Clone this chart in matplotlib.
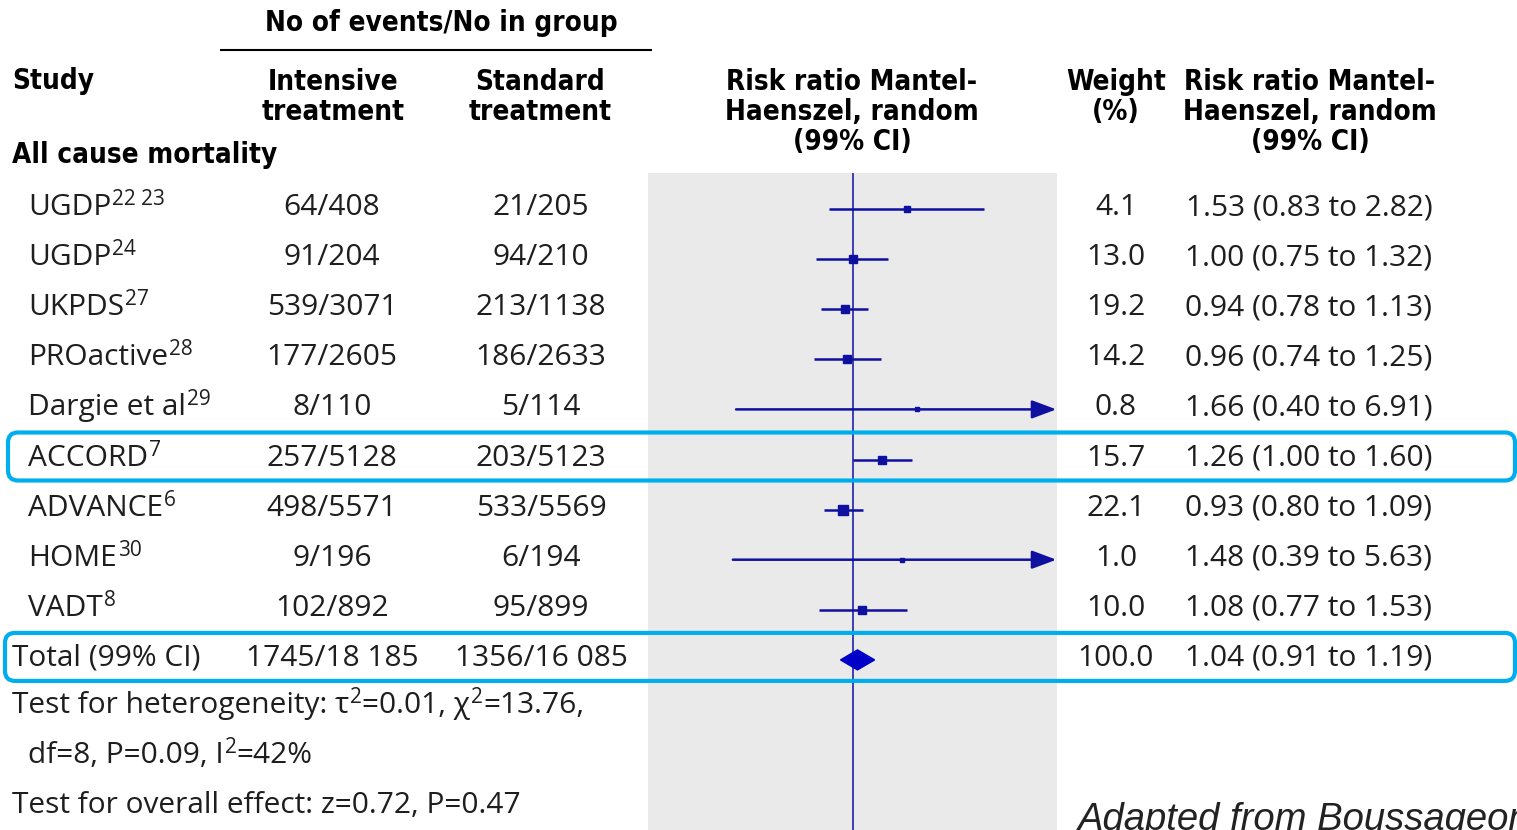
import numpy as np
import matplotlib
matplotlib.use("Agg")
import matplotlib.pyplot as plt
from matplotlib import font_manager
from matplotlib.patches import FancyBboxPatch, Polygon

# ---- data ---------------------------------------------------------------
studies = ["UGDP", "UGDP", "UKPDS", "PROactive", "Dargie et al",
           "ACCORD", "ADVANCE", "HOME", "VADT"]
refs = ["22 23", "24", "27", "28", "29", "7", "6", "30", "8"]
intensive = ["64/408", "91/204", "539/3071", "177/2605", "8/110",
             "257/5128", "498/5571", "9/196", "102/892"]
standard = ["21/205", "94/210", "213/1138", "186/2633", "5/114",
            "203/5123", "533/5569", "6/194", "95/899"]
weights = [4.1, 13.0, 19.2, 14.2, 0.8, 15.7, 22.1, 1.0, 10.0]
rr = [1.53, 1.00, 0.94, 0.96, 1.66, 1.26, 0.93, 1.48, 1.08]
rr_lo = [0.83, 0.75, 0.78, 0.74, 0.40, 1.00, 0.80, 0.39, 0.77]
rr_hi = [2.82, 1.32, 1.13, 1.25, 6.91, 1.60, 1.09, 5.63, 1.53]

total_label = "Total (99% CI)"
total_intensive = "1745/18 185"
total_standard = "1356/16 085"
total_weight = 100.0
total_rr, total_lo, total_hi = 1.04, 0.91, 1.19

highlighted = ["ACCORD"]
axis_min, axis_max = 0.2, 5.0

# ---- styling ------------------------------------------------------------
W, H = 1517, 830
BODY = "Open Sans"
TXT = "#1e1e1e"
NAVY = "#1010a0"
CYAN = "#00aeef"
PANEL = "#eaeaea"
BODY_SIZE = 21.5

# bold condensed face for the column headings, if the system has one
_cond = font_manager.FontProperties(family="DejaVu Sans", weight="bold",
                                    stretch="condensed")
if "Condensed" in font_manager.findfont(_cond, fallback_to_default=True):
    HEAD_PROPS = dict(family="DejaVu Sans", fontweight="bold",
                      fontstretch="condensed", fontsize=20)
else:
    HEAD_PROPS = dict(family="Roboto", fontweight="bold", fontsize=19)

fig = plt.figure(figsize=(W / 100, H / 100), dpi=100)

# forest-plot panel (log risk-ratio scale)
ax = fig.add_axes([648 / W, 0, (1057 - 648) / W, (830 - 173) / H])
ax.set_facecolor(PANEL)
ax.set_xscale("log")
ax.set_xlim(axis_min, axis_max)
ax.set_ylim(830, 173)
for s in ax.spines.values():
    s.set_visible(False)
ax.set_xticks([])
ax.set_yticks([])
ax.minorticks_off()
ax.set_zorder(0)

# overlay in pixel coordinates for all table text
base = fig.add_axes([0, 0, 1, 1])
base.set_xlim(0, W)
base.set_ylim(H, 0)
base.axis("off")
base.patch.set_alpha(0)
base.set_zorder(1)

renderer = fig.canvas.get_renderer()


def put(x, y, s, **kw):
    kw.setdefault("family", BODY)
    kw.setdefault("fontsize", BODY_SIZE)
    kw.setdefault("color", TXT)
    kw.setdefault("va", "baseline")
    return base.text(x, y, s, **kw)


def put_runs(x, y, runs, size=BODY_SIZE, **kw):
    """Draw a sequence of (text, superscript?) runs left to right."""
    cur = x
    for s, sup in runs:
        if sup:
            t = put(cur + 1, y - 10, s, fontsize=size * 0.7, **kw)
        else:
            t = put(cur, y, s, fontsize=size, **kw)
        bb = t.get_window_extent(renderer)
        cur = base.transData.inverted().transform((bb.x1, bb.y0))[0]
    return cur


def head(x, y, s, **kw):
    kw.setdefault("ha", "center")
    return base.text(x, y, s, color="black", va="baseline",
                     **HEAD_PROPS, **kw)


# ---- header -------------------------------------------------------------
head(441, 31, "No of events/No in group")
base.plot([220, 652], [50, 50], color="black", lw=1.5, solid_capstyle="butt")
head(12, 89, "Study", ha="left")
head(333, 90, "Intensive")
head(333, 120, "treatment")
head(540, 90, "Standard")
head(540, 120, "treatment")
for cx in (852, 1310):
    head(cx, 90, "Risk ratio Mantel-")
    head(cx, 120, "Haenszel, random")
    head(cx, 150, "(99% CI)")
head(1116, 90, "Weight")
head(1116, 120, "(%)")
head(12, 163, "All cause mortality", ha="left")

# ---- rows ---------------------------------------------------------------
row0, step = 209.0, 50.1
x_ci = 1309


def rr_text(v, lo, hi):
    return f"{v:.2f} ({lo:.2f} to {hi:.2f})"


for i, name in enumerate(studies):
    yl = row0 + i * step
    yb = yl + 6
    put_runs(28, yb, [(name, False), (refs[i], True)])
    put(332, yb, intensive[i], ha="center")
    put(541, yb, standard[i], ha="center")
    put(1116, yb, f"{weights[i]:.1f}", ha="center")
    put(x_ci, yb, rr_text(rr[i], rr_lo[i], rr_hi[i]), ha="center")

    # confidence interval, with an arrow when it runs off the scale
    lo = max(rr_lo[i], axis_min)
    if rr_hi[i] > axis_max:
        ax.annotate("", xy=(axis_max * 0.995, yl), xytext=(lo, yl),
                    arrowprops=dict(arrowstyle="-|>,head_length=0.75,head_width=0.28",
                                    color=NAVY, lw=1.8, mutation_scale=20,
                                    shrinkA=0, shrinkB=0))
    else:
        ax.plot([lo, rr_hi[i]], [yl, yl], color=NAVY, lw=1.8,
                solid_capstyle="butt", zorder=3)
    side = 3 + 1.3 * np.sqrt(weights[i])
    ax.plot(rr[i], yl, marker="s", ms=side * 0.72, color=NAVY,
            mec=NAVY, zorder=4)

    if name in highlighted:
        base.add_patch(FancyBboxPatch((8, yl - 27), 1507, 48,
                                      boxstyle="round,pad=0,rounding_size=10",
                                      fill=False, ec=CYAN, lw=3))

# total row
yl = row0 + len(studies) * step
yb = yl + 6
put(12, yb, total_label)
put(332, yb, total_intensive, ha="center")
put(541, yb, total_standard, ha="center")
put(1116, yb, f"{total_weight:.1f}", ha="center")
put(x_ci, yb, rr_text(total_rr, total_lo, total_hi), ha="center")
ax.add_patch(Polygon([(total_lo, yl), (total_rr, yl - 10),
                      (total_hi, yl), (total_rr, yl + 10)],
                     closed=True, fc="#0000c8", ec="#0000c8", zorder=4))
base.add_patch(FancyBboxPatch((5, yl - 27), 1510, 48,
                              boxstyle="round,pad=0,rounding_size=10",
                              fill=False, ec=CYAN, lw=3))

# line of no effect
ax.axvline(1.0, color=NAVY, lw=1.1, zorder=2)

# ---- footnotes ----------------------------------------------------------
put_runs(12, 713, [("Test for heterogeneity: \u03c4", False), ("2", True),
                   ("=0.01, \u03c7", False), ("2", True), ("=13.76,", False)])
put_runs(28, 763, [("df=8, P=0.09, I", False), ("2", True), ("=42%", False)])
put(12, 813, "Test for overall effect: z=0.72, P=0.47")
put(1078, 830, "Adapted from Boussageon", family="Liberation Sans",
    style="italic", fontsize=27.5, color="#222222")

fig.savefig("out.png", dpi=100)
